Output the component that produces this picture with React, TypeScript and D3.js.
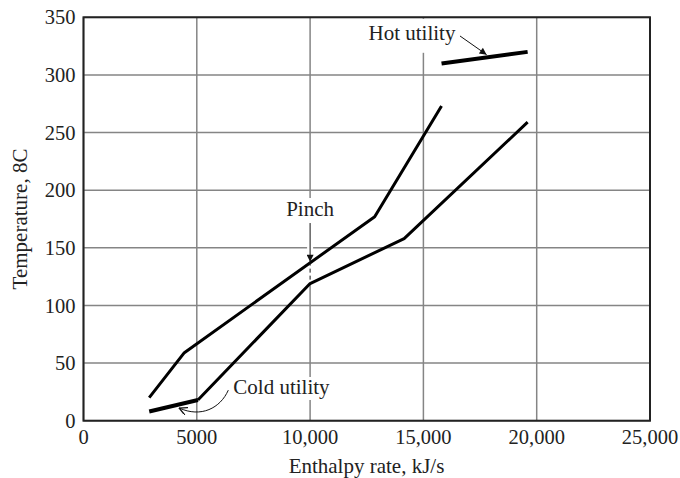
import * as d3 from "d3";

// Composite curves (enthalpy kJ/s, temperature C)
const hotEnthalpy = [2900, 4450, 12850, 15800];
const hotTemp = [20, 59, 177, 273];
const coldEnthalpy = [5050, 10000, 14150, 19600];
const coldTemp = [18, 119, 158, 259];
const coldUtilityEnthalpy = [2900, 5050];
const coldUtilityTemp = [8, 18];
const hotUtilityEnthalpy = [15800, 19600];
const hotUtilityTemp = [310, 320];

const xTickValues = [0, 5000, 10000, 15000, 20000, 25000];
const xTickLabels = ["0", "5000", "10,000", "15,000", "20,000", "25,000"];
const yTickValues = [0, 50, 100, 150, 200, 250, 300, 350];
const yTickLabels = ["0", "50", "100", "150", "200", "250", "300", "350"];

const xTitle = "Enthalpy rate, kJ/s";
const yTitle = "Temperature, 8C";

const W = 680;
const H = 478;
const FONT = "'Liberation Serif', 'Times New Roman', serif";

type P = { h: number; t: number };
const zip = (hs: number[], ts: number[]): P[] => hs.map((h, i) => ({ h, t: ts[i] }));

export default function App() {
  const margin = { top: 17.3, right: 30, bottom: 57.3, left: 83.5 };
  const x = d3.scaleLinear().domain([0, 25000]).range([margin.left, W - margin.right]);
  const y = d3.scaleLinear().domain([0, 350]).range([H - margin.bottom, margin.top]);

  const line = d3
    .line<P>()
    .x((d) => x(d.h))
    .y((d) => y(d.t));

  const hot = zip(hotEnthalpy, hotTemp);
  const cold = zip(coldEnthalpy, coldTemp);
  const coldUt = zip(coldUtilityEnthalpy, coldUtilityTemp);
  const hotUt = zip(hotUtilityEnthalpy, hotUtilityTemp);

  const [x0, x1] = x.range();
  const [y0, y1] = y.range();

  // annotation anchors (data coords)
  const pinchX = 10000;
  const pinchTop = 171.5;
  const pinchHot = 138;
  const pinchCold = 119;

  // cold utility curved arrow
  const cuStart = [x(6390), y(26.5)];
  const cuTip = [x(4220), y(11)];
  const cuPath = `M${cuStart[0]},${cuStart[1]} C${cuStart[0] - 8},${cuStart[1] + 18} ${cuTip[0] + 22},${cuTip[1] + 10} ${cuTip[0]},${cuTip[1]}`;

  return (
    <svg width={W} height={H} style={{ position: "absolute", left: 0, top: 0, background: "#fff" }}>
      <defs>
        <marker id="arr" viewBox="0 0 10 10" refX="10" refY="5" markerWidth="11" markerHeight="7" markerUnits="userSpaceOnUse" orient="auto">
          <path d="M0,0 L10,5 L0,10 Z" fill="#111" />
        </marker>
        <marker id="arrOpen" viewBox="0 0 10 10" refX="10" refY="5" markerWidth="9" markerHeight="8" markerUnits="userSpaceOnUse" orient="auto">
          <path d="M0,0 L10,5 L0,10" fill="none" stroke="#111" strokeWidth={1.6} />
        </marker>
      </defs>

      {/* grid */}
      <g stroke="#858585" strokeWidth={1.5}>
        {xTickValues.map((v, i) => (
          <line key={`gx-${i}`} x1={x(v)} x2={x(v)} y1={y1} y2={y0} />
        ))}
        {yTickValues.map((v, i) => (
          <line key={`gy-${i}`} x1={x0} x2={x1} y1={y(v)} y2={y(v)} />
        ))}
      </g>

      {/* label backgrounds hide the grid */}
      <rect x={364} y={y1 + 1.5} width={96} height={34} fill="#fff" />
      <rect x={284} y={198} width={52} height={22} fill="#fff" />
      <rect x={x(pinchX) - 3} y={220} width={6} height={y(pinchCold) - 220} fill="#fff" />
      <rect x={231} y={377} width={101} height={23} fill="#fff" />

      {/* curves */}
      <g fill="none" stroke="#000" strokeLinejoin="round">
        <path d={line(hot) ?? ""} strokeWidth={3} />
        <path d={line(cold) ?? ""} strokeWidth={3} />
        <path d={line(coldUt) ?? ""} strokeWidth={4} />
        <path d={line(hotUt) ?? ""} strokeWidth={4} />
      </g>

      {/* frame */}
      <rect x={x0} y={y1} width={x1 - x0} height={y0 - y1} fill="none" stroke="#222" strokeWidth={2} />

      {/* tick labels */}
      <g fontFamily={FONT} fontSize={20.5} fill="#222">
        {yTickValues.map((v, i) => (
          <text key={`yt-${i}`} x={x0 - 8} y={y(v)} dy="0.35em" textAnchor="end">
            {yTickLabels[i]}
          </text>
        ))}
        {xTickValues.map((v, i) => (
          <text key={`xt-${i}`} x={x(v)} y={y0 + 23} textAnchor="middle">
            {xTickLabels[i]}
          </text>
        ))}
        <text x={366.5} y={473} textAnchor="middle" fontSize={21}>
          {xTitle}
        </text>
        <text transform={`translate(27,${(y0 + y1) / 2}) rotate(-90)`} textAnchor="middle" fontSize={21}>
          {yTitle}
        </text>

        {/* annotations */}
        <g fontSize={21}>
          <text x={x(pinchX)} y={216} textAnchor="middle">Pinch</text>
          <text x={412} y={40} textAnchor="middle">Hot utility</text>
          <text x={281.5} y={394} textAnchor="middle">Cold utility</text>
        </g>
      </g>

      {/* pinch arrow + dashed gap */}
      <line x1={x(pinchX)} x2={x(pinchX)} y1={y(pinchTop)} y2={y(pinchHot)} stroke="#111" strokeWidth={1} markerEnd="url(#arr)" />
      <line x1={x(pinchX)} x2={x(pinchX)} y1={y(pinchHot)} y2={y(pinchCold)} stroke="#111" strokeWidth={1} strokeDasharray="4,3" />

      {/* hot utility arrow */}
      <line x1={x(16615)} y1={y(333.8)} x2={x(17790)} y2={y(317.6)} stroke="#111" strokeWidth={1} markerEnd="url(#arr)" />

      {/* cold utility arrow */}
      <path d={cuPath} fill="none" stroke="#111" strokeWidth={1} markerEnd="url(#arrOpen)" />
    </svg>
  );
}
